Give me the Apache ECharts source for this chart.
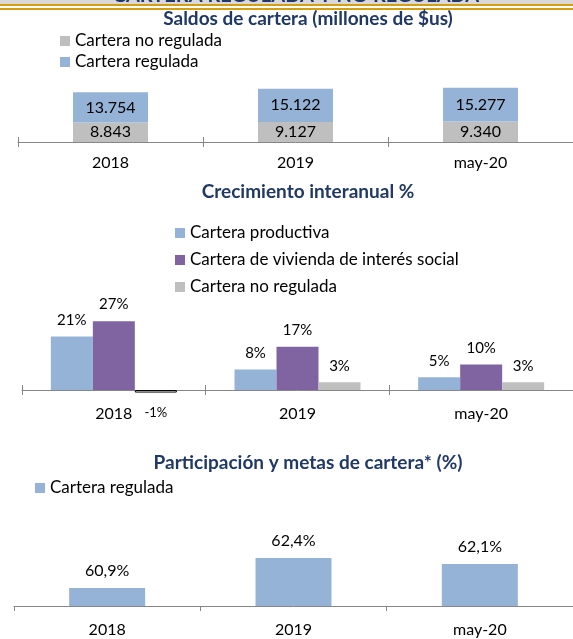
<!DOCTYPE html>
<html>
<head>
    <meta charset="utf-8">
    <script src="https://cdn.jsdelivr.net/npm/echarts@6/dist/echarts.min.js"></script>
    <style>
        html, body { margin: 0; padding: 0; background: #fff; }
        #main { width: 573px; height: 639px; }
    </style>
</head>
<body>
<div id="main"></div>
<script type="text/javascript">
// datos
var years = ['2018', '2019', 'may-20'];
var saldoNoRegulada = [8843, 9127, 9340];
var saldoRegulada = [13754, 15122, 15277];
var crecProductiva = [21, 8, 5];
var crecVivienda = [27, 17, 10];
var crecNoRegulada = [-1, 3, 3];
var participacion = [60.9, 62.4, 62.1];

var azul = '#95b3d7', morado = '#8064a2', gris = '#bfbfbf';
var navy = '#1f3864', ejeColor = '#868686';
var fuente = 'Lato';

function miles(v) {
    return String(v).replace(/\B(?=(\d{3})+(?!\d))/g, '.');
}

// eje de categorias (con etiquetas)
function ejeX(grid, margin) {
    return {
        type: 'category', gridIndex: grid, data: years, position: 'bottom',
        axisLine: { lineStyle: { color: ejeColor, width: 1 } },
        axisTick: { show: true, length: 5, lineStyle: { color: ejeColor } },
        axisLabel: { color: '#000', fontSize: 16, fontFamily: fuente, margin: margin },
        splitLine: { show: false }
    };
}
// eje auxiliar: solo las marcas hacia arriba, para que crucen la linea
function ejeAux(grid, yIdx) {
    return {
        type: 'category', gridIndex: grid, data: years, position: 'top',
        axisLine: { show: false, onZero: true, onZeroAxisIndex: yIdx },
        axisTick: { show: true, length: 5, lineStyle: { color: ejeColor } },
        axisLabel: { show: false }
    };
}
function ejeY(grid, min, max) {
    return { type: 'value', gridIndex: grid, min: min, max: max, show: false, splitLine: { show: false } };
}
function titulo(text, top) {
    return {
        text: text, left: 308, top: top, textAlign: 'center', padding: 0,
        textStyle: { color: navy, fontSize: 19, fontWeight: 'bold', fontFamily: fuente }
    };
}
function leyenda(data, left, top, gap) {
    return {
        data: data, orient: 'vertical', left: left, top: top, padding: 0,
        itemWidth: 10, itemHeight: 10, itemGap: gap, icon: 'rect',
        selectedMode: false,
        textStyle: { color: '#000', fontSize: 17, fontFamily: fuente }
    };
}

var myChart = echarts.init(document.getElementById('main'));

var option = {
    animation: false,
    backgroundColor: '#fff',
    graphic: [
        { type: 'rect', shape: { x: 0, y: 0, width: 573, height: 4 }, style: { fill: '#d9d9d9' } },
        { type: 'text', x: 296, y: 6, style: { text: 'CARTERA REGULADA Y NO REGULADA', fill: navy,
            font: 'bold 20px Lato', align: 'center', verticalAlign: 'bottom' } },
        { type: 'rect', shape: { x: 0, y: 4, width: 573, height: 2 }, style: { fill: '#d39e12' } },
        { type: 'rect', shape: { x: 0, y: 6, width: 573, height: 2 }, style: { fill: '#fff' } },
        { type: 'rect', shape: { x: 0, y: 8, width: 573, height: 2 }, style: { fill: '#d39e12' } }
    ],
    title: [
        titulo('Saldos de cartera (millones de $us)', 9.5),
        titulo('Crecimiento interanual %', 182.5),
        titulo('Participación y metas de cartera* (%)', 453.5)
    ],
    legend: [
        leyenda(['Cartera no regulada', 'Cartera regulada'], 60, 32.5, 4),
        leyenda(['Cartera productiva', 'Cartera de vivienda de interés social', 'Cartera no regulada'], 175, 224.5, 10),
        leyenda(['Cartera regulada'], 35, 479.5, 4)
    ],
    grid: [
        { left: 18, right: -6, top: 76, height: 66 },
        { left: 22, right: -13, top: 313.5, height: 79.05 },
        { left: 14, right: -11, top: 546, height: 60 }
    ],
    xAxis: [
        ejeX(0, 13), ejeAux(0, 3),
        ejeX(1, 13), ejeAux(1, 4),
        ejeX(2, 16)
    ],
    yAxis: [
        ejeY(0, 0, 30000),
        ejeY(1, -1, 30),
        ejeY(2, 60, 63),
        ejeY(0, 0, 30000),
        ejeY(1, -1, 30)
    ],
    series: [
        {
            name: 'Cartera no regulada', type: 'bar', stack: 'saldo',
            xAxisIndex: 0, yAxisIndex: 0, barWidth: 75,
            data: saldoNoRegulada, itemStyle: { color: gris },
            label: { show: true, position: 'inside', color: '#000', fontSize: 16, fontFamily: fuente, formatter: function (p) { return miles(p.value); } }
        },
        {
            name: 'Cartera regulada', type: 'bar', stack: 'saldo',
            xAxisIndex: 0, yAxisIndex: 0, barWidth: 75,
            data: saldoRegulada, itemStyle: { color: azul },
            label: { show: true, position: 'inside', color: '#000', fontSize: 16, fontFamily: fuente, formatter: function (p) { return miles(p.value); } }
        },
        {
            name: 'Cartera productiva', type: 'bar', xAxisIndex: 2, yAxisIndex: 1,
            barWidth: 42, barGap: '0%',
            data: crecProductiva, itemStyle: { color: azul },
            label: { show: true, position: 'top', distance: 9, color: '#000', fontSize: 15, fontFamily: fuente, formatter: '{c}%' }
        },
        {
            name: 'Cartera de vivienda de interés social', type: 'bar', xAxisIndex: 2, yAxisIndex: 1,
            barWidth: 42, barGap: '0%',
            data: crecVivienda, itemStyle: { color: morado },
            label: { show: true, position: 'top', distance: 9, color: '#000', fontSize: 15, fontFamily: fuente, formatter: '{c}%' }
        },
        {
            name: 'Cartera no regulada', type: 'bar', xAxisIndex: 2, yAxisIndex: 1,
            barWidth: 42, barGap: '0%',
            // negativo: relleno blanco con borde
            data: crecNoRegulada.map(function (v) {
                if (v < 0) {
                    return {
                        value: v,
                        itemStyle: { color: '#fff', borderColor: '#000', borderWidth: 1 },
                        label: { position: 'bottom', distance: 14, fontSize: 13 }
                    };
                }
                return v;
            }),
            itemStyle: { color: gris },
            label: { show: true, position: 'top', distance: 9, color: '#000', fontSize: 15, fontFamily: fuente, formatter: '{c}%' }
        },
        {
            name: 'Cartera regulada', type: 'bar', xAxisIndex: 4, yAxisIndex: 2,
            barWidth: 76,
            data: participacion, itemStyle: { color: azul },
            label: { show: true, position: 'top', distance: 9, color: '#000', fontSize: 16, fontFamily: fuente,
                formatter: function (p) { return p.value.toFixed(1).replace('.', ',') + '%'; } }
        }
    ]
};

myChart.setOption(option);
</script>
</body>
</html>
